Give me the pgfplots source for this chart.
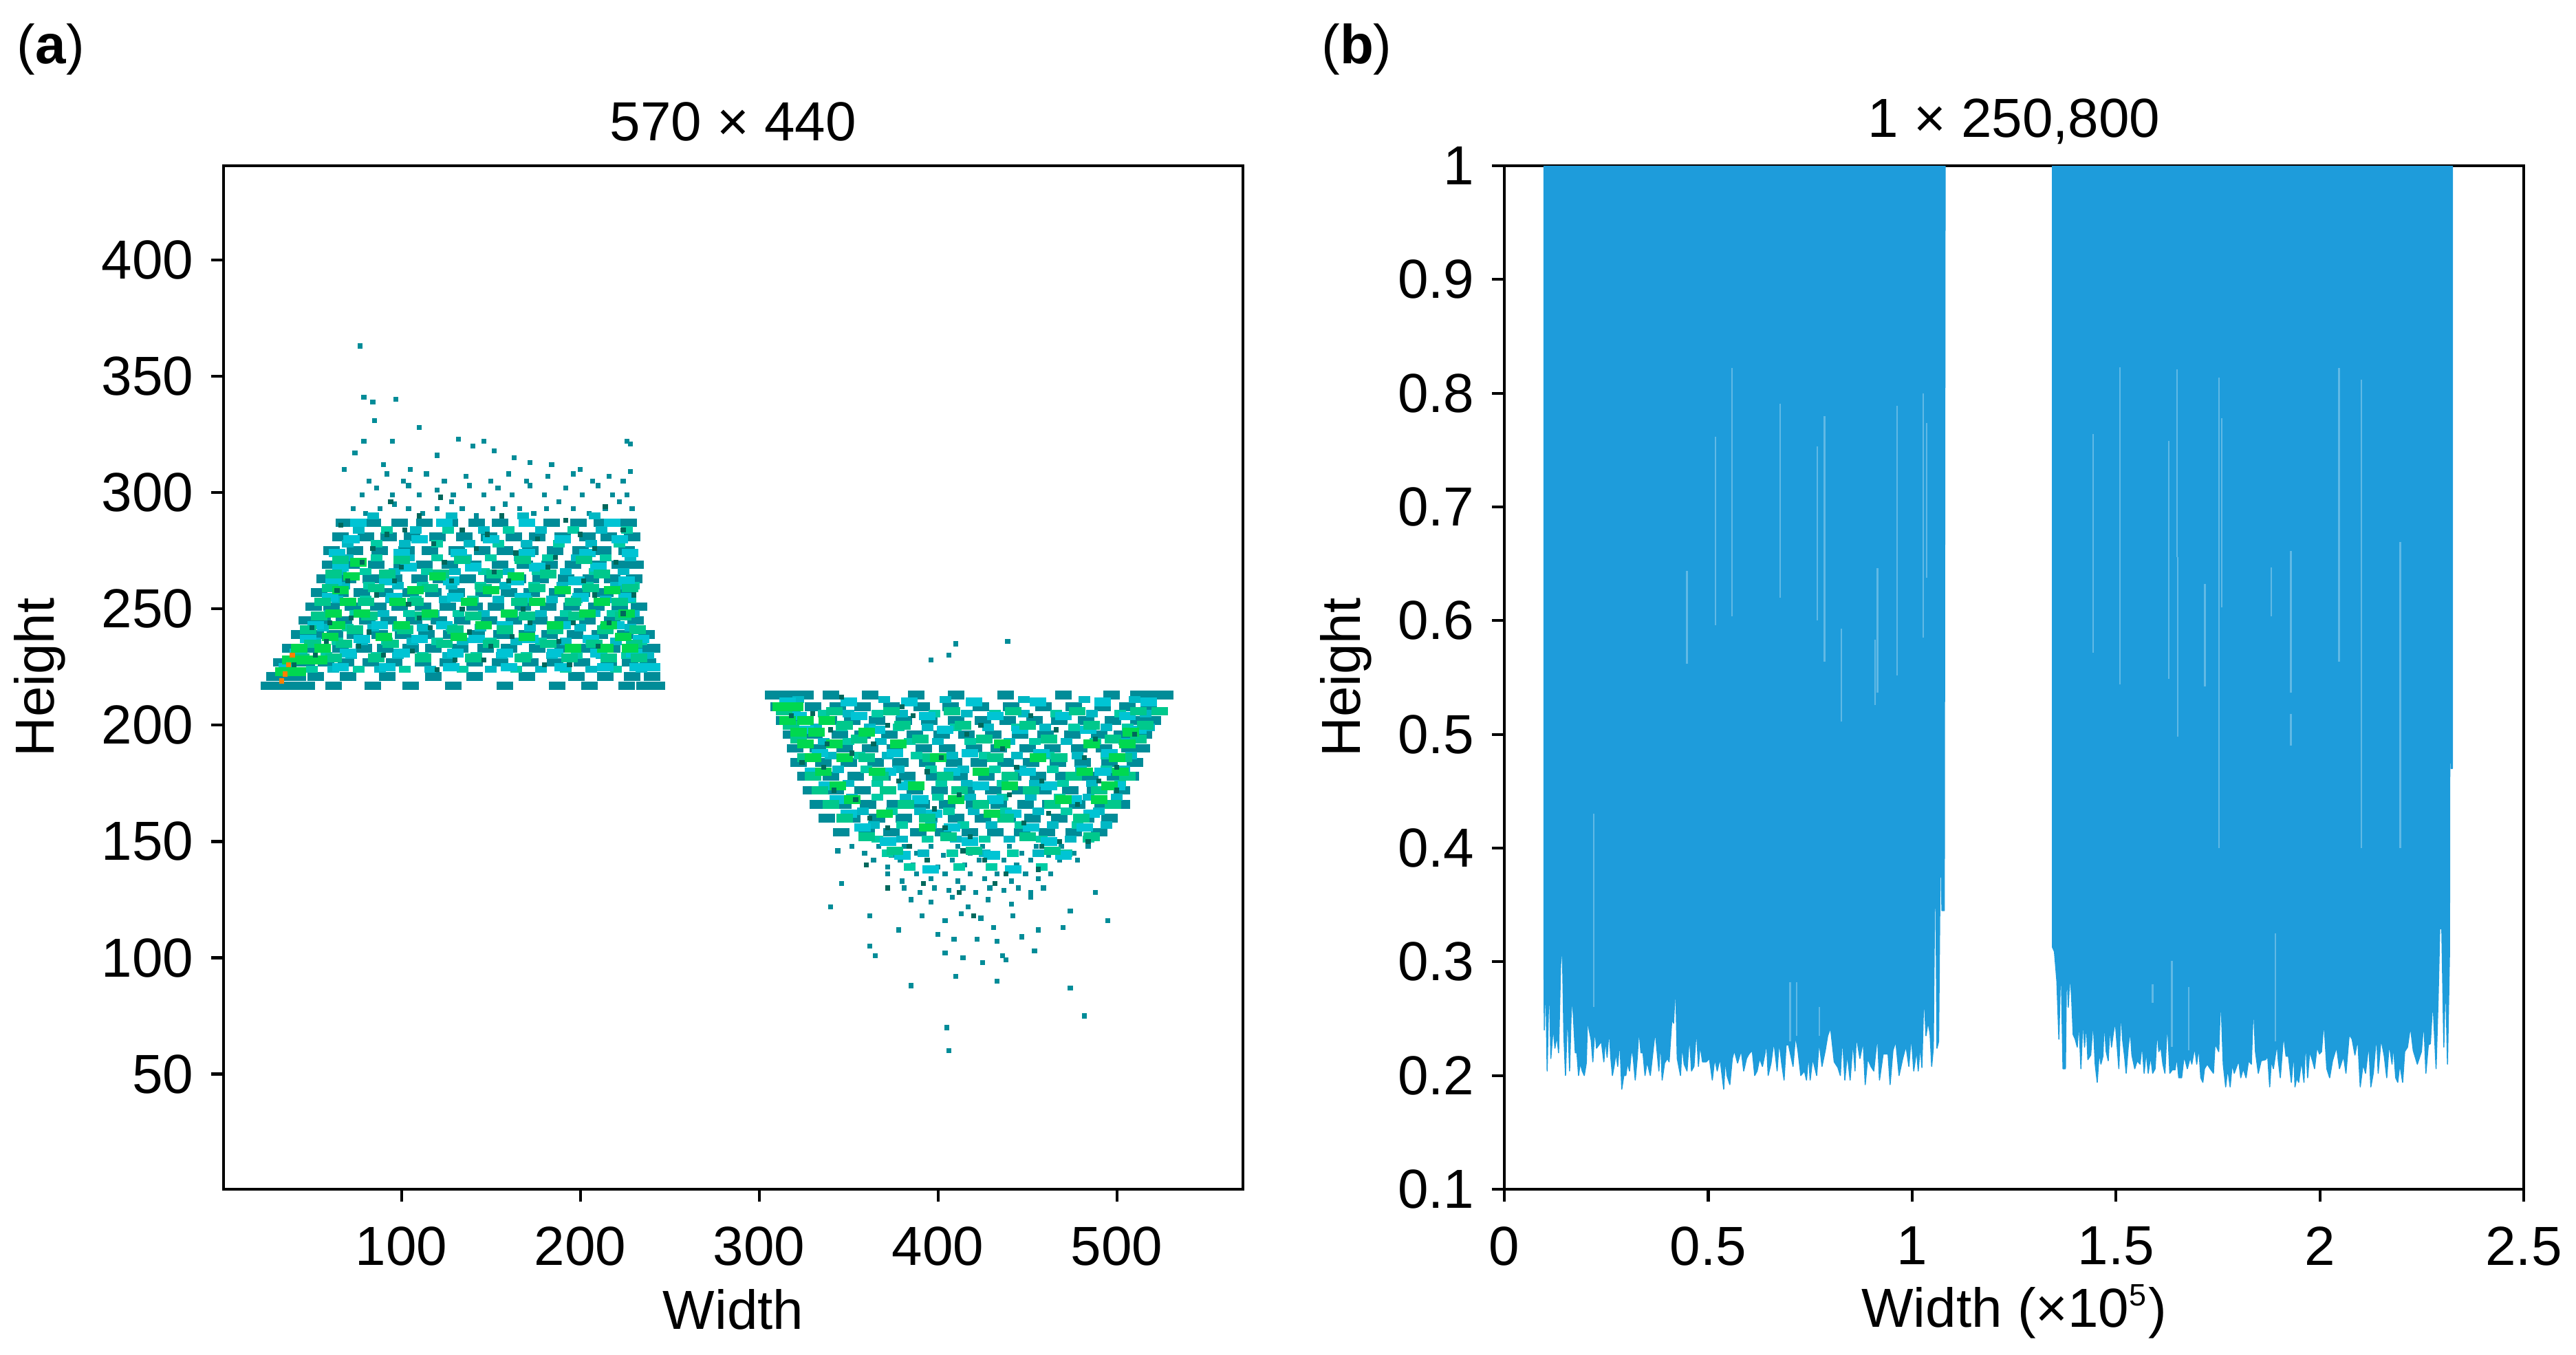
\documentclass[border=0pt]{standalone}
\usepackage{pgfplots}
\pgfplotsset{compat=1.18}
\usepackage{fontspec}
\setmainfont{Liberation Sans}
\definecolor{teal1}{HTML}{008C98}
\definecolor{cyan1}{HTML}{00C4D4}
\definecolor{cyan2}{HTML}{00B8C4}
\definecolor{mint1}{HTML}{00C88C}
\definecolor{mint2}{HTML}{00CCA4}
\definecolor{green1}{HTML}{00D850}
\definecolor{dark1}{HTML}{00685C}
\definecolor{blue1}{HTML}{1E9CDB}
\pgfplotsset{
  panel/.style={
    scale only axis, width=296.4pt, height=297.6pt,
    axis line style={line width=.85pt},
    tick style={line width=.85pt, black},
    tick align=outside, major tick length=3.6pt,
    xtick pos=bottom, ytick pos=left,
    tick label style={font=\fontsize{16}{16}\selectfont},
    xticklabel style={yshift=-3.8pt},
    yticklabel style={xshift=-1.6pt},
    label style={font=\fontsize{16}{16}\selectfont},
    title style={font=\fontsize{16}{16}\selectfont, at={(axis description cs:.5,1)}, anchor=center, yshift=6.8pt},
    x label style={at={(axis description cs:.5,0)}, anchor=center, yshift=-35pt},
    /pgf/number format/assume math mode=true,
    scaled ticks=false,
  },
  cell/.style={only marks, color=#1, mark=square*, mark size=1.15pt, mark options={xscale=2, line width=0pt}},
  fine/.style={only marks, color=#1, mark=square*, mark size=.95pt, mark options={xscale=1.7, line width=0pt}},
  dot/.style={only marks, color=#1, mark=square*, mark size=.62pt, mark options={line width=0pt}},
}
\begin{document}
\begin{tikzpicture}
\path (0,0) rectangle (749pt,393.8pt);
\node[anchor=center,font=\fontsize{16}{16}\selectfont] at (14.8pt,379.4pt) {(\textbf{a})};
\node[anchor=center,font=\fontsize{16}{16}\selectfont] at (394.5pt,379.4pt) {(\textbf{b})};

\begin{axis}[panel, at={(65pt,48pt)}, anchor=south west,
    title={570 × 440}, xlabel={Width}, ylabel={Height},
    y label style={at={(axis description cs:0,.5)}, anchor=center, yshift=53.5pt},
    xmin=0.5, xmax=570.5, ymin=0.5, ymax=440.5,
    xtick={100,200,300,400,500}, ytick={50,100,150,200,250,300,350,400}]
% upper left cluster, base
\addplot[cell=teal1] coordinates {
(26,217)(31,217)(38,217)(47,217)(62,217)(84,217)(105,217)(129,217)(158,217)(187,217)(205,217)(226,217)(236,217)(243,217)
(29,221)(35,221)(42,221)(52,221)(70,221)(92,221)(118,221)(141,221)(170,221)(198,221)(214,221)(229,221)(240,221)
(33,227)(40,227)(47,227)(58,227)(69,227)(83,227)(96,227)(112,227)(126,227)(141,227)(155,227)(172,227)(186,227)(201,227)(216,227)(228,227)(238,227)
(38,233)(46,233)(54,233)(66,233)(79,233)(91,233)(105,233)(118,233)(133,233)(147,233)(160,233)(176,233)(190,233)(204,233)(218,233)(231,233)(240,233)
(43,239)(52,239)(63,239)(74,239)(88,239)(101,239)(114,239)(128,239)(142,239)(156,239)(170,239)(183,239)(197,239)(211,239)(225,239)(237,239)
(47,245)(56,245)(68,245)(81,245)(93,245)(107,245)(121,245)(134,245)(149,245)(163,245)(177,245)(190,245)(204,245)(218,245)(231,245)
(51,251)(61,251)(73,251)(87,251)(99,251)(112,251)(126,251)(141,251)(153,251)(168,251)(182,251)(195,251)(209,251)(222,251)(233,251)
(54,257)(66,257)(78,257)(91,257)(105,257)(118,257)(131,257)(146,257)(160,257)(173,257)(187,257)(201,257)(214,257)(226,257)
(57,263)(70,263)(83,263)(96,263)(110,263)(122,263)(137,263)(151,263)(165,263)(178,263)(192,263)(206,263)(218,263)(230,263)
(60,269)(72,269)(86,269)(100,269)(113,269)(127,269)(140,269)(155,269)(169,269)(183,269)(196,269)(210,269)(222,269)(231,269)
(61,275)(74,275)(88,275)(103,275)(116,275)(131,275)(145,275)(158,275)(172,275)(186,275)(200,275)(213,275)(226,275)
(66,281)(80,281)(93,281)(106,281)(120,281)(135,281)(149,281)(163,281)(176,281)(190,281)(204,281)(216,281)(229,281)
(68,287)(84,287)(99,287)(113,287)(127,287)(142,287)(155,287)(170,287)(184,287)(199,287)(212,287)(227,287)
};
\addplot[dot=teal1] coordinates {
(73,293)(88,293)(104,293)(120,293)(134,293)(151,293)(166,293)(181,293)(196,293)(214,293)(229,293)(80,291)(96,295)(112,291)(128,296)(142,290)(158,295)(174,291)(188,296)(205,291)(222,296)
(78,299)(95,299)(110,299)(129,299)(146,299)(162,299)(180,299)(201,299)(218,299)(226,299)(86,302)(104,303)(120,301)(138,303)(154,302)(172,303)(192,302)(210,303)
(82,305)(101,305)(124,305)(150,305)(170,305)(207,305)(224,305)(92,308)(114,308)(136,307)(160,308)(182,307)(196,308)(216,307)(228,309)
(74,317)(79,322)(95,322)(105,310)(120,316)(132,323)(140,320)(146,322)(152,318)(163,315)(226,322)(85,331)(79,341)(84,339)(97,340)(77,363)(228,321)(110,328)(68,310)(90,312)(184,312)(172,313)(200,310)
(406,60)(405,70)(482,75)(474,87)(438,99)(410,92)(433,90)(385,88)(365,101)(404,102)(414,100)(425,98)(436,101)(454,103)(470,113)(495,116)(474,120)(488,128)(344,146)(346,132)(362,105)
(385,125)(396,124)(408,126)(417,122)(428,125)(441,123)(452,126)(391,118)(404,116)(413,119)(424,117)(431,113)(442,118)(456,112)(400,110)(409,108)(422,108)(433,107)(447,109)(378,112)(362,118)(340,122)
(410,235)(439,236)(396,228)(406,230)
};
\addplot[fine=cyan2] coordinates {
(37,224)(62,224)(88,224)(116,224)(150,224)(178,224)(206,224)(234,224)
(44,230)(72,230)(98,230)(126,230)(156,230)(184,230)(212,230)(238,230)
(52,236)(78,236)(106,236)(134,236)(164,236)(192,236)(220,236)
(56,242)(84,242)(112,242)(144,242)(172,242)(200,242)(228,242)
(60,248)(90,248)(118,248)(146,248)(178,248)(208,248)(230,248)
(64,254)(94,254)(124,254)(154,254)(184,254)(214,254)
(68,260)(98,260)(128,260)(158,260)(190,260)(220,260)
(66,266)(96,266)(130,266)(160,266)(192,266)(224,266)
(70,272)(104,272)(136,272)(166,272)(198,272)(228,272)
(70,278)(102,278)(138,278)(170,278)(206,278)
(76,284)(108,284)(146,284)(178,284)(212,284)
(84,290)(128,290)(168,290)(208,290)
};
\addplot[fine=mint2] coordinates {
(50,224)(76,224)(102,224)(134,224)(164,224)(192,224)(220,224)
(58,230)(86,230)(112,230)(142,230)(170,230)(198,230)(226,230)
(64,236)(92,236)(120,236)(150,236)(178,236)(206,236)(234,236)
(70,242)(98,242)(128,242)(158,242)(186,242)(214,242)
(74,248)(104,248)(132,248)(162,248)(192,248)(218,248)
(80,254)(108,254)(140,254)(170,254)(198,254)(228,254)
(82,260)(112,260)(144,260)(174,260)(204,260)(230,260)
(80,266)(114,266)(146,266)(176,266)(208,266)
(86,272)(120,272)(150,272)(182,272)(214,272)
(86,278)(120,278)(154,278)(188,278)(222,278)
(92,284)(126,284)(160,284)(196,284)(226,284)
};
\addplot[cell=cyan1] coordinates {
(36,225)(66,225)(92,225)(128,225)(160,225)(190,225)(214,225)(232,225)(240,225)
(42,231)(70,231)(100,231)(130,231)(158,231)(186,231)(210,231)(230,231)
(48,237)(78,237)(110,237)(142,237)(172,237)(206,237)(234,237)
(52,243)(88,243)(124,243)(158,243)(190,243)(220,243)
(60,255)(96,255)(130,255)(168,255)(200,255)(226,255)
(62,262)(92,262)(128,262)(164,262)(198,262)(226,262)
(66,268)(104,268)(140,268)(176,268)(210,268)
(64,274)(100,274)(132,274)(170,274)(204,274)(228,274)
(72,280)(110,280)(150,280)(190,280)(222,280)
(76,287)(124,287)(170,287)(218,287)
};
\addplot[cell=mint1] coordinates {
(44,229)(62,229)(86,229)(112,229)(140,229)(168,229)(194,229)(216,229)(233,229)
(50,235)(68,235)(94,235)(124,235)(150,235)(182,235)(208,235)(230,235)
(48,241)(74,241)(102,241)(130,241)(158,241)(186,241)(214,241)(232,241)
(54,247)(82,247)(112,247)(140,247)(170,247)(198,247)(224,247)
(56,253)(80,253)(108,253)(138,253)(166,253)(196,253)(222,253)
(60,259)(86,259)(116,259)(146,259)(176,259)(206,259)(228,259)
(62,265)(92,265)(122,265)(152,265)(182,265)(212,265)
(66,271)(100,271)(134,271)(168,271)(202,271)
};
\addplot[cell=green1] coordinates {
(34,223)(42,223)(38,228)(46,228)(54,228)
(43,233)(56,233)(196,233)(214,233)(228,233)
(60,238)(90,238)(132,238)(170,238)(224,238)
(64,243)(100,243)(146,243)(186,243)(216,243)
(62,248)(78,248)(116,248)(160,248)(204,248)(226,248)
(70,253)(98,253)(138,253)(176,253)(212,253)
(66,258)(108,258)(150,258)(190,258)(218,258)
(72,264)(120,264)(164,264)(76,270)
};
\addplot[dot=dark1] coordinates {
(40,226)(58,236)(72,246)(86,256)(100,268)(116,242)(128,262)(142,276)(150,234)(168,250)(182,268)(196,244)(208,256)(220,270)(64,258)(78,270)(92,282)(110,290)(134,284)(156,290)(176,280)(200,282)(214,294)(90,230)(120,224)(146,228)(180,226)(210,234)(52,230)(134,250)(160,262)(104,252)(76,234)(188,236)(224,248)(66,286)(122,298)(94,296)
(50,242)(82,240)(96,262)(110,246)(124,270)(138,240)(152,266)(172,244)(186,272)(202,262)(216,244)(230,256)(70,262)(84,276)(102,284)(118,278)(148,282)(164,274)(192,288)(208,276)(224,284)(60,244)(106,232)(130,228)(162,238)(194,226)
};
\addplot[dot=orange] coordinates {(33,219)(35,222)(37,226)(39,230)};

% lower right cluster, base
\addplot[cell=teal1] coordinates {
(308,213)(313,213)(318,213)(326,213)(340,213)(362,213)(388,213)(410,213)(438,213)(470,213)(497,213)(512,213)(520,213)(527,213)
(311,208)(319,208)(330,208)(344,208)(358,208)(374,208)(391,208)(407,208)(424,208)(441,208)(459,208)(476,208)(492,208)(506,208)(518,208)
(314,202)(325,202)(339,202)(352,202)(366,202)(381,202)(395,202)(410,202)(425,202)(439,202)(454,202)(468,202)(483,202)(498,202)(512,202)(520,202)
(318,196)(331,196)(345,196)(358,196)(373,196)(387,196)(402,196)(416,196)(431,196)(446,196)(460,196)(475,196)(490,196)(503,196)(515,196)
(320,190)(333,190)(348,190)(362,190)(376,190)(392,190)(405,190)(420,190)(434,190)(450,190)(464,190)(479,190)(493,190)(507,190)(514,190)
(322,184)(336,184)(350,184)(365,184)(379,184)(394,184)(409,184)(423,184)(438,184)(452,184)(467,184)(481,184)(496,184)(510,184)
(326,178)(340,178)(354,178)(369,178)(383,178)(398,178)(412,178)(427,178)(442,178)(456,178)(470,178)(485,178)(499,178)(508,178)
(329,172)(343,172)(358,172)(372,172)(387,172)(401,172)(416,172)(431,172)(446,172)(459,172)(474,172)(488,172)(503,172)
(333,166)(347,166)(361,166)(376,166)(391,166)(405,166)(420,166)(434,166)(449,166)(463,166)(478,166)(492,166)(503,166)
(338,160)(352,160)(366,160)(381,160)(395,160)(410,160)(425,160)(439,160)(453,160)(468,160)(483,160)(496,160)
(346,154)(360,154)(374,154)(389,154)(403,154)(418,154)(432,154)(447,154)(461,154)(476,154)(490,154)
};
\addplot[dot=teal1] coordinates {
(352,148)(367,148)(381,148)(396,148)(411,148)(425,148)(440,148)(455,148)(469,148)(484,148)(359,145)(374,144)(388,145)(403,144)(418,145)(432,144)(447,145)(462,144)(476,145)
(364,142)(379,142)(394,142)(408,142)(423,142)(437,142)(452,142)(468,142)(478,142)(372,139)(386,140)(400,139)(415,140)(430,139)(444,140)(459,139)
(372,136)(388,136)(404,136)(418,136)(433,136)(449,136)(463,136)(380,133)(396,134)(411,133)(426,134)(441,133)(456,134)
(381,130)(398,130)(414,130)(429,130)(445,130)(459,130)(390,128)(406,129)(421,128)(437,129)(452,128)
};
\addplot[fine=cyan2] coordinates {
(322,211)(370,211)(404,211)(448,211)(482,211)(510,211)
(320,205)(350,205)(380,205)(416,205)(448,205)(486,205)(516,205)
(332,199)(362,199)(394,199)(428,199)(460,199)(494,199)(518,199)
(336,193)(368,193)(400,193)(440,193)(472,193)(504,193)
(340,187)(372,187)(408,187)(444,187)(478,187)(508,187)
(344,181)(378,181)(414,181)(446,181)(480,181)(504,181)
(350,175)(384,175)(416,175)(454,175)(486,175)
(352,169)(382,169)(418,169)(452,169)(484,169)(500,169)
(358,163)(390,163)(420,163)(456,163)(490,163)
(364,157)(396,157)(430,157)(464,157)(494,157)
(380,151)(410,151)(440,151)(474,151)
(392,145)(426,145)(456,145)
};
\addplot[fine=mint2] coordinates {
(336,205)(366,205)(398,205)(432,205)(466,205)(502,205)
(346,199)(378,199)(410,199)(444,199)(476,199)(506,199)
(350,193)(384,193)(418,193)(454,193)(488,193)
(356,187)(388,187)(426,187)(462,187)(494,187)
(360,181)(396,181)(432,181)(464,181)(494,181)
(366,175)(402,175)(436,175)(470,175)(502,175)
(366,169)(400,169)(436,169)(468,169)
(374,163)(406,163)(438,163)(472,163)
(380,157)(414,157)(446,157)(478,157)
(366,151)(394,151)(426,151)(458,151)(484,151)
(372,145)(408,145)(442,145)(472,145)
(384,139)(412,139)(430,139)(458,139)
};
\addplot[cell=cyan1] coordinates {
(316,210)(350,210)(384,210)(420,210)(456,210)(492,210)(518,210)
(322,204)(356,204)(394,204)(432,204)(470,204)(506,204)
(326,198)(366,198)(404,198)(446,198)(484,198)(512,198)
(334,188)(376,188)(418,188)(458,188)(496,188)
(330,180)(372,180)(408,180)(450,180)(492,180)
(338,174)(382,174)(424,174)(462,174)(500,174)
(344,168)(390,168)(432,168)(476,168)
(350,162)(398,162)(442,162)(486,162)
(358,156)(408,156)(452,156)(482,156)
(372,150)(418,150)(462,150)
(380,144)(430,144)(470,144)(396,138)(442,138)
};
\addplot[cell=mint1] coordinates {
(314,206)(342,206)(374,206)(408,206)(442,206)(478,206)(512,206)(524,206)
(318,200)(348,200)(380,200)(414,200)(450,200)(486,200)(516,200)
(322,194)(356,194)(390,194)(426,194)(462,194)(498,194)(512,194)
(326,186)(360,186)(396,186)(432,186)(468,186)(504,186)
(330,178)(368,178)(404,178)(440,178)(476,178)(506,178)
(334,172)(372,172)(412,172)(452,172)(490,172)
(340,166)(382,166)(424,166)(464,166)(498,166)
(348,160)(394,160)(438,160)(480,160)
(360,152)(406,152)(450,152)(486,152)
(376,146)(420,146)(464,146)
};
\addplot[cell=green1] coordinates {
(312,208)(320,208)(316,202)(326,202)(338,202)
(322,197)(332,197)(360,197)(508,197)
(326,192)(342,192)(378,192)(436,192)(486,192)(506,192)
(330,186)(348,186)(400,186)(456,186)(500,186)
(336,180)(366,180)(424,180)(482,180)(502,180)
(344,174)(388,174)(440,174)(496,174)
(352,168)(410,168)(470,168)(490,168)
(370,162)(430,162)(394,156)
};
\addplot[dot=dark1] coordinates {
(330,205)(352,188)(372,200)(394,180)(412,170)(436,190)(458,176)(478,166)(500,182)(342,172)(362,160)(384,148)(404,156)(426,142)(448,158)(468,150)(346,212)(380,208)(416,196)(452,204)(488,194)(338,192)(392,132)(412,128)(432,132)(360,140)(372,130)(420,118)(456,138)(484,150)(500,172)(324,184)
(318,204)(340,198)(364,192)(386,204)(402,186)(424,200)(444,182)(466,198)(490,176)(510,196)(336,182)(354,168)(378,176)(398,164)(418,152)(440,170)(462,162)(482,186)(372,156)(394,142)(414,146)(438,136)(458,148)
};
\end{axis}

\begin{axis}[panel, at={(437.4pt,48pt)}, anchor=south west,
    title={1 × 250,800}, xlabel={Width (×10\textsuperscript{\fontsize{9}{9}\selectfont 5})}, ylabel={Height},
    x label style={yshift=-.6pt},
    y label style={at={(axis description cs:0,.5)}, anchor=center, yshift=46pt},
    xmin=0, xmax=2.5, ymin=0.1, ymax=1,
    xtick={0,0.5,1,1.5,2,2.5}, ytick={0.1,0.2,0.3,0.4,0.5,0.6,0.7,0.8,0.9,1},
    xticklabels={0,0.5,1,1.5,2,2.5}, yticklabels={0.1,0.2,0.3,0.4,0.5,0.6,0.7,0.8,0.9,1}]
% left block, lower envelope
\addplot[fill=blue1, draw=blue1, line width=.3pt, line join=round] coordinates {
(0.097,1)(0.097,0.31)(0.098,0.24)(0.101,0.294)(0.105,0.204)(0.110,0.29)(0.114,0.215)(0.120,0.243)(0.124,0.224)(0.129,0.235)(0.133,0.22)(0.138,0.297)(0.142,0.317)(0.146,0.235)(0.150,0.2)(0.155,0.258)(0.160,0.204)(0.165,0.27)(0.169,0.254)(0.174,0.22)(0.178,0.22)(0.182,0.2)(0.186,0.211)(0.191,0.204)(0.196,0.2)(0.201,0.211)(0.204,0.25)(0.208,0.24)(0.213,0.231)(0.217,0.212)(0.222,0.242)(0.226,0.224)(0.232,0.227)(0.238,0.23)(0.244,0.212)(0.248,0.232)(0.252,0.216)(0.257,0.241)(0.261,0.216)(0.265,0.2)(0.269,0.208)(0.274,0.22)(0.278,0.208)(0.283,0.232)(0.288,0.188)(0.293,0.2)(0.298,0.2)(0.302,0.211)(0.307,0.204)(0.312,0.224)(0.316,0.216)(0.321,0.196)(0.326,0.216)(0.330,0.241)(0.335,0.22)(0.340,0.22)(0.345,0.2)(0.350,0.212)(0.358,0.2)(0.370,0.239)(0.379,0.204)(0.383,0.232)(0.387,0.196)(0.393,0.211)(0.400,0.215)(0.404,0.212)(0.411,0.25)(0.415,0.246)(0.420,0.282)(0.424,0.215)(0.432,0.2)(0.436,0.227)(0.441,0.21)(0.448,0.204)(0.454,0.235)(0.459,0.204)(0.465,0.208)(0.471,0.241)(0.476,0.208)(0.480,0.227)(0.486,0.212)(0.495,0.212)(0.503,0.215)(0.510,0.196)(0.516,0.215)(0.522,0.204)(0.529,0.215)(0.538,0.188)(0.542,0.215)(0.546,0.2)(0.553,0.192)(0.559,0.215)(0.564,0.222)(0.572,0.211)(0.581,0.222)(0.587,0.204)(0.594,0.215)(0.600,0.219)(0.608,0.222)(0.614,0.2)(0.620,0.204)(0.626,0.215)(0.633,0.208)(0.639,0.219)(0.643,0.23)(0.647,0.2)(0.654,0.211)(0.661,0.23)(0.669,0.204)(0.674,0.23)(0.680,0.211)(0.686,0.196)(0.691,0.227)(0.697,0.227)(0.708,0.208)(0.714,0.235)(0.720,0.222)(0.727,0.2)(0.736,0.204)(0.741,0.196)(0.746,0.219)(0.750,0.196)(0.756,0.215)(0.766,0.2)(0.772,0.23)(0.779,0.208)(0.787,0.222)(0.793,0.235)(0.800,0.242)(0.809,0.212)(0.818,0.207)(0.824,0.2)(0.829,0.235)(0.835,0.196)(0.841,0.219)(0.848,0.196)(0.855,0.23)(0.860,0.204)(0.863,0.235)(0.872,0.215)(0.880,0.23)(0.885,0.192)(0.891,0.215)(0.899,0.208)(0.906,0.204)(0.915,0.235)(0.920,0.196)(0.929,0.219)(0.941,0.219)(0.946,0.192)(0.953,0.222)(0.960,0.23)(0.968,0.2)(0.977,0.215)(0.985,0.226)(0.992,0.208)(0.998,0.235)(1.004,0.204)(1.011,0.222)(1.015,0.204)(1.020,0.227)(1.024,0.207)(1.029,0.274)(1.034,0.235)(1.039,0.247)(1.044,0.237)(1.048,0.208)(1.052,0.224)(1.057,0.418)(1.061,0.224)(1.065,0.23)(1.070,0.43)(1.073,0.345)(1.079,0.345)(1.081,1)
} -- cycle;
% right block, lower envelope
\addplot[fill=blue1, draw=blue1, line width=.3pt, line join=round] coordinates {
(1.344,1)(1.344,0.313)(1.349,0.309)(1.355,0.283)(1.360,0.232)(1.365,0.305)(1.370,0.206)(1.376,0.206)(1.379,0.301)(1.383,0.26)(1.387,0.29)(1.391,0.27)(1.395,0.236)(1.400,0.232)(1.405,0.225)(1.409,0.248)(1.414,0.206)(1.419,0.251)(1.423,0.225)(1.427,0.248)(1.431,0.214)(1.438,0.218)(1.444,0.248)(1.449,0.21)(1.454,0.194)(1.459,0.221)(1.463,0.21)(1.468,0.217)(1.471,0.248)(1.476,0.221)(1.481,0.213)(1.485,0.244)(1.489,0.225)(1.493,0.236)(1.498,0.248)(1.503,0.225)(1.507,0.206)(1.512,0.259)(1.516,0.232)(1.521,0.217)(1.525,0.202)(1.530,0.225)(1.535,0.24)(1.539,0.218)(1.546,0.206)(1.552,0.213)(1.559,0.21)(1.564,0.228)(1.569,0.202)(1.574,0.221)(1.579,0.202)(1.585,0.217)(1.590,0.202)(1.596,0.206)(1.601,0.24)(1.605,0.221)(1.610,0.225)(1.615,0.21)(1.620,0.202)(1.626,0.248)(1.632,0.202)(1.638,0.205)(1.645,0.205)(1.649,0.217)(1.654,0.198)(1.661,0.198)(1.667,0.217)(1.675,0.206)(1.682,0.216)(1.686,0.21)(1.693,0.225)(1.698,0.21)(1.703,0.225)(1.708,0.198)(1.713,0.194)(1.717,0.206)(1.724,0.21)(1.731,0.206)(1.739,0.202)(1.743,0.228)(1.752,0.221)(1.757,0.271)(1.763,0.21)(1.769,0.19)(1.774,0.206)(1.780,0.19)(1.785,0.21)(1.790,0.202)(1.801,0.213)(1.806,0.198)(1.812,0.206)(1.819,0.198)(1.825,0.213)(1.832,0.21)(1.837,0.263)(1.842,0.221)(1.849,0.202)(1.856,0.213)(1.867,0.214)(1.872,0.217)(1.877,0.19)(1.881,0.213)(1.886,0.206)(1.895,0.228)(1.898,0.213)(1.903,0.198)(1.911,0.236)(1.917,0.217)(1.923,0.217)(1.930,0.194)(1.936,0.221)(1.939,0.19)(1.943,0.198)(1.948,0.194)(1.955,0.213)(1.961,0.194)(1.965,0.232)(1.970,0.198)(1.975,0.221)(1.982,0.213)(1.987,0.206)(1.993,0.225)(1.999,0.219)(2.004,0.221)(2.010,0.248)(2.017,0.206)(2.024,0.198)(2.031,0.213)(2.041,0.225)(2.048,0.206)(2.058,0.217)(2.064,0.202)(2.072,0.236)(2.079,0.232)(2.086,0.218)(2.093,0.232)(2.099,0.19)(2.106,0.21)(2.112,0.202)(2.120,0.228)(2.125,0.19)(2.131,0.202)(2.139,0.236)(2.143,0.202)(2.150,0.232)(2.158,0.217)(2.164,0.198)(2.170,0.228)(2.177,0.21)(2.180,0.228)(2.186,0.198)(2.191,0.194)(2.196,0.21)(2.203,0.194)(2.208,0.221)(2.215,0.225)(2.222,0.243)(2.229,0.222)(2.239,0.21)(2.249,0.221)(2.255,0.248)(2.260,0.202)(2.266,0.227)(2.271,0.228)(2.277,0.267)(2.285,0.206)(2.290,0.267)(2.294,0.329)(2.299,0.329)(2.304,0.225)(2.308,0.29)(2.313,0.21)(2.318,0.309)(2.319,0.572)(2.321,0.572)(2.322,0.47)(2.325,0.47)(2.325,1)
} -- cycle;
% pale streaks inside the blocks
\addplot[white, opacity=.3, line width=.45pt, unbounded coords=jump] coordinates {
(0.219,0.43)(0.219,0.26)(0.219,nan)
(0.448,0.644)(0.448,0.562)(0.448,nan)
(0.518,0.762)(0.518,0.596)(0.518,nan)
(0.558,0.822)(0.558,0.604)(0.558,nan)
(0.676,0.791)(0.676,0.62)(0.676,nan)
(0.701,0.282)(0.701,0.23)(0.701,nan)
(0.717,0.282)(0.717,0.235)(0.717,nan)
(0.767,0.753)(0.767,0.6)(0.767,nan)
(0.785,0.78)(0.785,0.564)(0.785,nan)
(0.772,0.26)(0.772,0.235)(0.772,nan)
(0.826,0.593)(0.826,0.511)(0.826,nan)
(0.909,0.583)(0.909,0.526)(0.909,nan)
(0.915,0.646)(0.915,0.537)(0.915,nan)
(0.963,0.789)(0.963,0.552)(0.963,nan)
(1.027,0.8)(1.027,0.585)(1.027,nan)
(1.036,0.774)(1.036,0.638)(1.036,nan)
(1.444,0.764)(1.444,0.572)(1.444,nan)
(1.51,0.823)(1.51,0.544)(1.51,nan)
(1.59,0.28)(1.59,0.264)(1.59,nan)
(1.63,0.758)(1.63,0.549)(1.63,nan)
(1.637,0.301)(1.637,0.225)(1.637,nan)
(1.65,0.821)(1.65,0.656)(1.65,nan)
(1.652,0.656)(1.652,0.498)(1.652,nan)
(1.679,0.278)(1.679,0.222)(1.679,nan)
(1.718,0.632)(1.718,0.542)(1.718,nan)
(1.753,0.814)(1.753,0.4)(1.753,nan)
(1.76,0.778)(1.76,0.612)(1.76,nan)
(1.881,0.647)(1.881,0.604)(1.881,nan)
(1.891,0.325)(1.891,0.23)(1.891,nan)
(1.929,0.661)(1.929,0.537)(1.929,nan)
(1.929,0.518)(1.929,0.49)(1.929,nan)
(2.047,0.822)(2.047,0.564)(2.047,nan)
(2.102,0.812)(2.102,0.4)(2.102,nan)
(2.197,0.669)(2.197,0.4)(2.197,nan)
};
\end{axis}
\end{tikzpicture}
\end{document}
